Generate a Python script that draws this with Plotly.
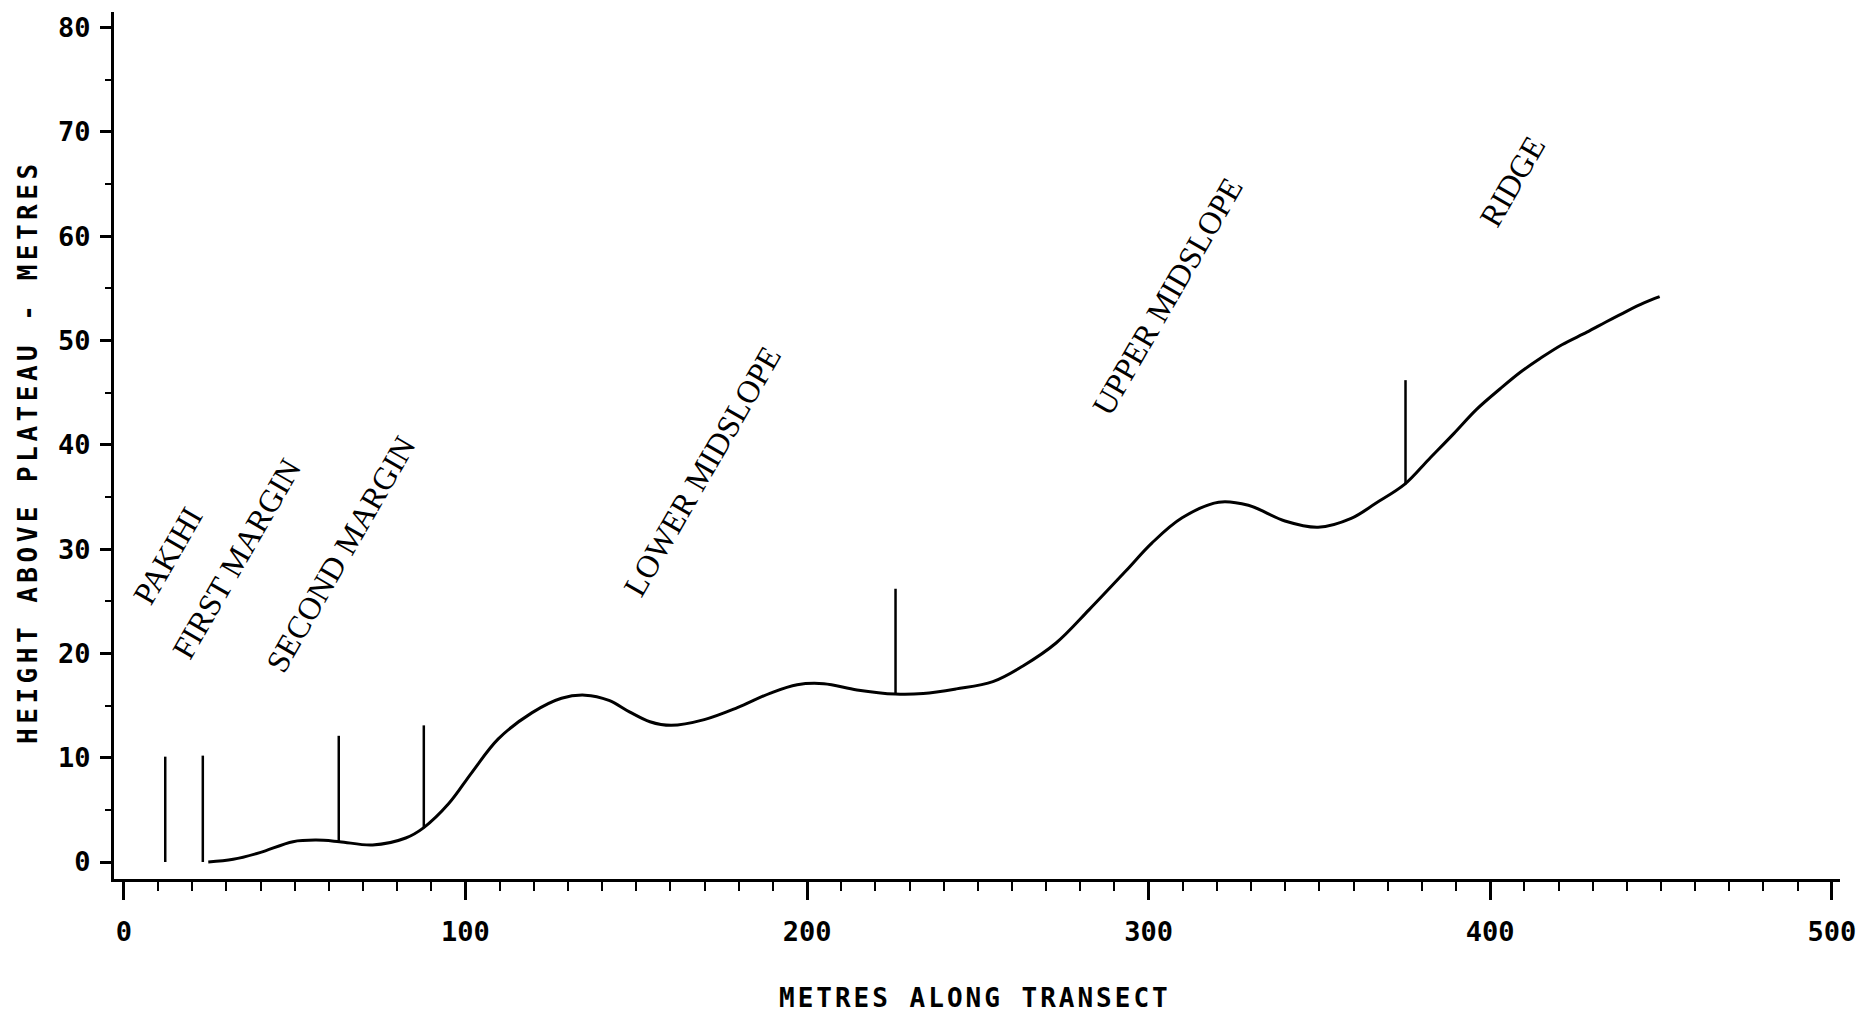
import plotly.graph_objects as go

# Ground profile along the transect (metres along transect, height above plateau)
profile_x = [24.7, 32, 39.8, 49.5, 56.3, 63.1, 72.8, 82.5, 87.8, 95.1, 101.9, 109.6,
             119.4, 128.1, 135, 142, 148, 154, 160.2, 169.9, 179.6, 189.3, 197.1, 204.9,
             214.6, 225.8, 234, 243.7, 254.4, 263.2, 272.9, 282.6, 293.3, 301, 309.8,
             320.5, 329.2, 339.9, 349.6, 359.3, 366.5, 374.9, 382, 389.4, 396, 403, 409,
             414.7, 421, 428.3, 434, 439.9, 445, 449.6]
profile_y = [0, 0.26, 0.9, 1.95, 2.1, 1.95, 1.63, 2.3, 3.3, 5.6, 8.6, 11.8,
             14.3, 15.7, 16.0, 15.5, 14.4, 13.45, 13.1, 13.65, 14.8, 16.2, 17.0, 17.1,
             16.5, 16.1, 16.15, 16.6, 17.3, 18.8, 21.0, 24.2, 27.9, 30.6, 33.0,
             34.5, 34.2, 32.7, 32.1, 32.95, 34.4, 36.2, 38.6, 41.1, 43.4, 45.4, 47.0,
             48.3, 49.6, 50.8, 51.8, 52.8, 53.6, 54.2]

# Zone boundary markers
boundary_x = [12.1, 23.1, 62.9, 87.8, 225.9, 375.2]
boundary_bottom = [0, 0, 1.95, 3.3, 16.1, 36.2]
boundary_top = [10.1, 10.2, 12.1, 13.1, 26.2, 46.2]

# Zone labels
zone_names = ["PAKIHI", "FIRST MARGIN", "SECOND MARGIN", "LOWER MIDSLOPE",
              "UPPER MIDSLOPE", "RIDGE"]
zone_label_x = [13.0, 32.8, 63.5, 169.3, 305.5, 406.5]
zone_label_y = [29.4, 29.1, 29.5, 37.5, 54.3, 65.3]

x_title = "METRES ALONG TRANSECT"
y_title = "HEIGHT ABOVE PLATEAU - METRES"

fig = go.Figure()

fig.add_trace(go.Scatter(
    x=profile_x, y=profile_y, mode="lines",
    line=dict(color="black", width=3, shape="spline", smoothing=1.0),
    hoverinfo="skip", showlegend=False))

bx, by = [], []
for xv, b, t in zip(boundary_x, boundary_bottom, boundary_top):
    bx += [xv, xv, None]
    by += [b, t, None]
fig.add_trace(go.Scatter(
    x=bx, y=by, mode="lines", line=dict(color="black", width=2.5),
    hoverinfo="skip", showlegend=False))

for name, lx, ly in zip(zone_names, zone_label_x, zone_label_y):
    fig.add_annotation(
        x=lx, y=ly, xref="x", yref="y", text=name, showarrow=False,
        textangle=-60, xanchor="center", yanchor="middle",
        font=dict(family="Liberation Serif, Times New Roman, serif", size=32, color="black"))

mono = "DejaVu Sans Mono, monospace"

fig.add_annotation(
    x=0.4988, y=-0.1373, xref="paper", yref="paper",
    text='<span style="letter-spacing:3px">' + x_title + '</span>',
    showarrow=False, xanchor="center", yanchor="middle",
    font=dict(family=mono, size=26, color="black", weight="bold"))

fig.add_annotation(
    x=-0.0499, y=0.4925, xref="paper", yref="paper",
    text='<span style="letter-spacing:4.5px">' + y_title + '</span>',
    showarrow=False, xanchor="center", yanchor="middle", textangle=-90,
    font=dict(family=mono, size=26, color="black", weight="bold"))

fig.update_xaxes(
    range=[-2.9, 502.4], tickmode="linear", tick0=0, dtick=100,
    ticks="outside", ticklen=18, tickwidth=2.5, tickcolor="black",
    showline=True, linecolor="black", linewidth=3,
    showgrid=False, zeroline=False,
    tickfont=dict(family=mono, size=27, color="black", weight="bold"),
    ticklabelstandoff=9,
    minor=dict(dtick=10, tick0=0, ticks="outside", ticklen=9, tickwidth=2,
               tickcolor="black", showgrid=False))

fig.update_yaxes(
    range=[-1.63, 81.5], tickmode="linear", tick0=0, dtick=10,
    ticks="outside", ticklen=11, tickwidth=2.5, tickcolor="black",
    showline=True, linecolor="black", linewidth=3,
    showgrid=False, zeroline=False,
    tickfont=dict(family=mono, size=27, color="black", weight="bold"),
    ticklabelstandoff=4,
    minor=dict(dtick=5, tick0=0, ticks="outside", ticklen=6, tickwidth=2,
               tickcolor="black", showgrid=False))

fig.update_layout(
    width=1868, height=1017, autosize=False,
    margin=dict(l=114, r=20, t=12, b=138, pad=0),
    paper_bgcolor="white", plot_bgcolor="white",
    showlegend=False)

fig.write_html("out.html", include_plotlyjs=True,
               config={"displayModeBar": False},
               post_script="document.body.style.margin='0';document.body.style.overflow='hidden';")
